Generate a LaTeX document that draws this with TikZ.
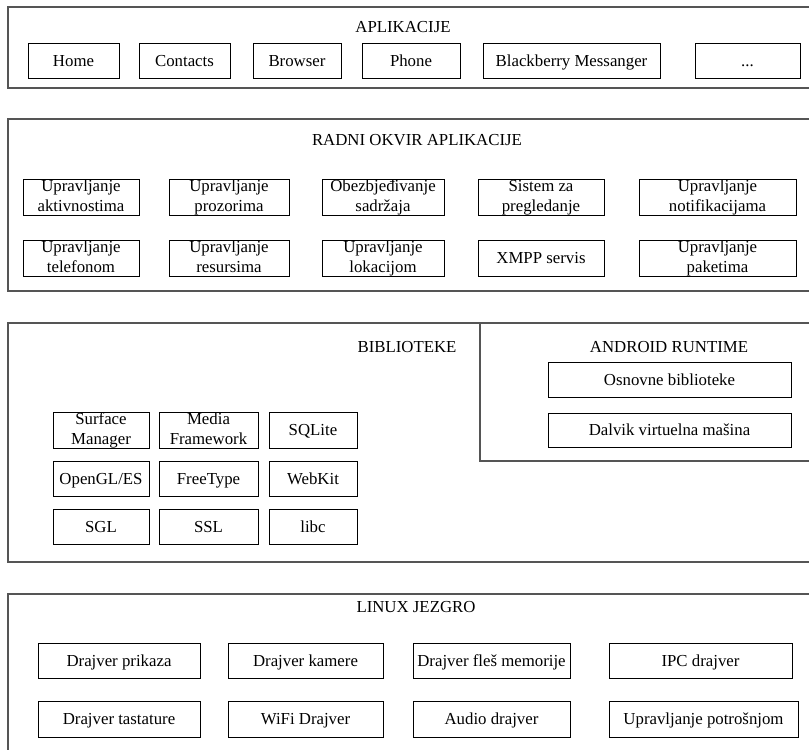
\documentclass[tikz,border=0pt]{standalone}
\usepackage{fontspec}
\setmainfont{Liberation Serif}
\definecolor{framegray}{RGB}{85,85,85}
\newcommand\bx[7][box]{\node[#1,minimum width={#5-#3},minimum height={#6-#4}] (#2) at ({(#3+#5)/2},{(#4+#6)/2}) {#7};}
\newcommand\bxx[7]{\node[boxtwo,minimum width={#4-#2},minimum height={#5-#3}] (#1) at ({(#2+#4)/2},{(#3+#5)/2}) {\rule{0pt}{12pt}#6\\#7\rule[-4pt]{0pt}{4pt}};}
\begin{document}
\begin{tikzpicture}[x=1pt,y=-1pt,
  box/.style={draw=black,line width=0.8pt,inner sep=0pt,text height=11.2pt,text depth=0pt,font=\fontsize{16.8}{20}\selectfont},
  boxtwo/.style={draw=black,line width=0.8pt,inner sep=0pt,align=center,font=\fontsize{16.8}{20}\selectfont},
  frame/.style={draw=framegray,line width=1.3pt,inner sep=0pt},
  title/.style={inner sep=0pt,text height=11.2pt,text depth=0pt,font=\fontsize{16.8}{20}\selectfont}]
\clip (0,0) rectangle (809,750);
\fill[white] (0,0) rectangle (809,750);
% Layer 1
\bx[frame]{f1}{8}{7}{830}{88}{}
\node[title] (t1) at (403,27) {APLIKACIJE};
\bx{home}{28}{43}{119}{78}{Home}
\bx{contacts}{139}{43}{230}{78}{Contacts}
\bx{browser}{253}{43}{341}{78}{Browser}
\bx{phone}{362}{43}{460}{78}{Phone}
\bx{bbm}{483}{43}{660}{78}{Blackberry Messanger}
\bx{more}{695}{43}{800}{78}{...}
% Layer 2
\bx[frame]{f2}{8}{119}{830}{291}{}
\node[title] (t2) at (417,140) {RADNI OKVIR APLIKACIJE};
\bxx{a1}{23}{179}{139}{215}{Upravljanje}{aktivnostima}
\bxx{a2}{169}{179}{289}{215}{Upravljanje}{prozorima}
\bxx{a3}{322}{179}{444}{215}{Obezbjeđivanje}{sadržaja}
\bxx{a4}{478}{179}{604}{215}{Sistem za}{pregledanje}
\bxx{a5}{639}{179}{796}{215}{Upravljanje}{notifikacijama}
\bxx{b1}{23}{240}{139}{276}{Upravljanje}{telefonom}
\bxx{b2}{169}{240}{289}{276}{Upravljanje}{resursima}
\bxx{b3}{322}{240}{444}{276}{Upravljanje}{lokacijom}
\bx{b4}{478}{240}{604}{276}{XMPP servis}
\bxx{b5}{639}{240}{796}{276}{Upravljanje}{paketima}
% Layer 3
\bx[frame]{f3}{8}{323}{830}{562}{}
\node[title] (t3) at (407,347) {BIBLIOTEKE};
\bx[frame]{rt}{480}{323}{830}{461}{}
\node[title] (t4) at (669,347) {ANDROID RUNTIME};
\bx{osn}{548}{362}{791}{397}{Osnovne biblioteke}
\bx{dvm}{548}{413}{791}{447}{Dalvik virtuelna mašina}
\bxx{l1}{53}{412}{149}{448}{Surface}{Manager}
\bxx{l2}{159}{412}{258}{448}{Media}{Framework}
\bx{l3}{269}{412}{357}{448}{SQLite}
\bx{l4}{53}{461}{149}{496}{OpenGL/ES}
\bx{l5}{159}{461}{258}{496}{FreeType}
\bx{l6}{269}{461}{357}{496}{WebKit}
\bx{l7}{53}{509}{149}{544}{SGL}
\bx{l8}{159}{509}{258}{544}{SSL}
\bx{l9}{269}{509}{357}{544}{libc}
% Layer 4
\bx[frame]{f4}{8}{594}{830}{780}{}
\node[title] (t5) at (416,607) {LINUX JEZGRO};
\bx{d1}{38}{643}{200}{678}{Drajver prikaza}
\bx{d2}{228}{643}{383}{678}{Drajver kamere}
\bx{d3}{413}{643}{570}{678}{Drajver fleš memorije}
\bx{d4}{609}{643}{792}{678}{IPC drajver}
\bx{e1}{38}{701}{200}{737}{Drajver tastature}
\bx{e2}{228}{701}{383}{737}{WiFi Drajver}
\bx{e3}{413}{701}{570}{737}{Audio drajver}
\bx{e4}{609}{701}{798}{737}{Upravljanje potrošnjom}
\end{tikzpicture}
\end{document}
